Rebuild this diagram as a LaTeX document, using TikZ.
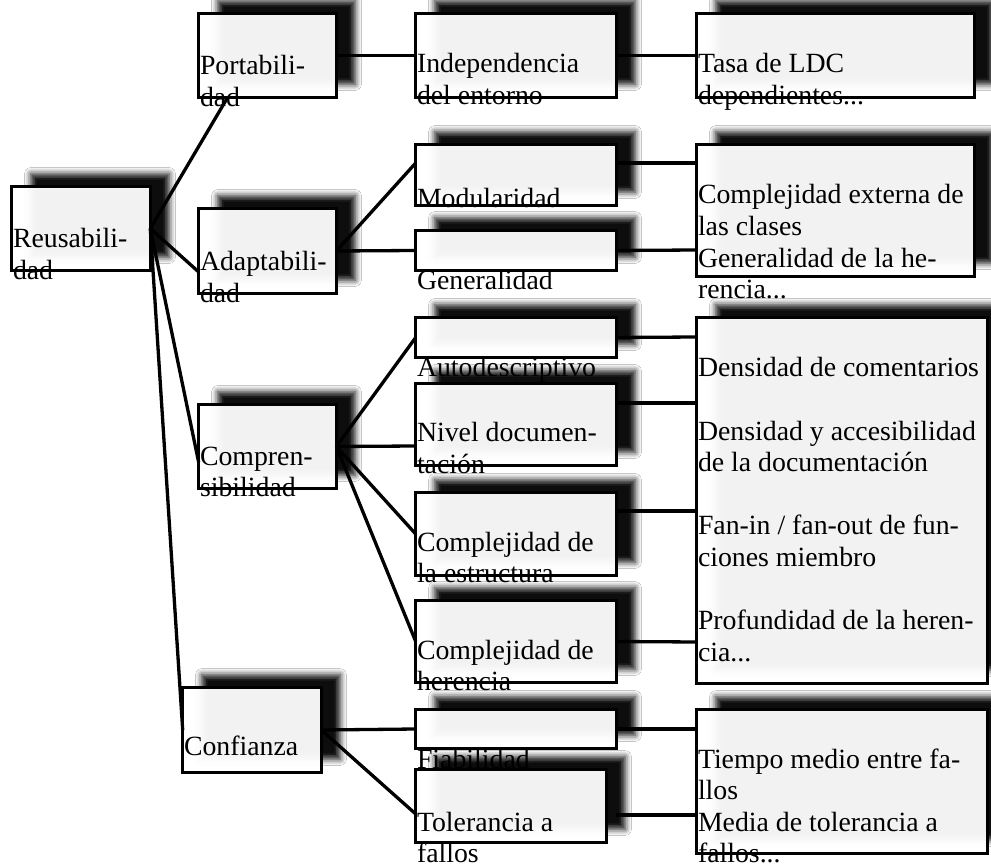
\documentclass[tikz,border=0pt]{standalone}
\usepackage{fontspec}
\setmainfont{Liberation Serif}
\usetikzlibrary{shadows.blur}
\newcommand\mybox[5]{%
  \pgfmathsetmacro\bxw{#4-#2-3.4}%
  \pgfmathsetmacro\bxh{#5-#3-3.4}%
  \node[box, minimum width=\bxw pt, minimum height=\bxh pt] (#1) at ({(#2+#4)/2},{(#3+#5)/2}) {};}
\newcommand\ml[1]{\begin{tabular}[t]{@{}l@{}}#1\end{tabular}}
\begin{document}
\begin{tikzpicture}[x=1pt,y=-1pt,
  box/.style={draw=black, line width=3.4pt, fill=white, fill opacity=0.95, draw opacity=1,
    inner sep=0pt, outer sep=0pt,
    blur shadow={shadow xshift=19pt, shadow yshift=13pt, shadow blur radius=6pt, shadow opacity=100}},
  txt/.style={anchor=base west, inner sep=0pt, outer sep=0pt,
    font=\fontsize{27.8}{31.6}\selectfont, text opacity=1, fill opacity=1},
  conn/.style={draw=black, line width=3.3pt}]
\useasboundingbox (0,0) rectangle (991,866);
\fill[white] (0,0) rectangle (991,866);
% ---- level 1
\mybox{reus}{10}{185}{152}{272}
\node[txt] (treus) at (13,248) {\ml{Reusabili-\\dad}};
\mybox{port}{197}{12}{338}{99}
\node[txt] (tport) at (200,75) {\ml{Portabili-\\dad}};
\mybox{adap}{197}{207}{338}{295}
\node[txt] (tadap) at (200,271) {\ml{Adaptabili-\\dad}};
\mybox{comp}{197}{403}{338}{490}
\node[txt] (tcomp) at (200,465) {\ml{Compren-\\sibilidad}};
\mybox{conf}{181}{686}{323}{774}
\node[txt] (tconf) at (184,755) {Confianza};
% ---- level 2
\mybox{indep}{414}{12}{618}{99}
\node[txt] (tindep) at (417,73) {\ml{Independencia\\del entorno}};
\mybox{modu}{414}{143}{618}{207}
\node[txt] (tmodu) at (417,208) {Modularidad};
\mybox{gene}{414}{229}{618}{272}
\node[txt] (tgene) at (417,290) {Generalidad};
\mybox{auto}{414}{316}{618}{359}
\node[txt] (tauto) at (417,377) {Autodescriptivo};
\mybox{nivel}{414}{382}{618}{467}
\node[txt] (tnivel) at (417,442) {\ml{Nivel documen-\\tación}};
\mybox{cest}{414}{491}{618}{577}
\node[txt] (tcest) at (417,551) {\ml{Complejidad de\\la estructura}};
\mybox{cher}{414}{599}{618}{684}
\node[txt] (tcher) at (417,659) {\ml{Complejidad de\\herencia}};
\mybox{fiab}{414}{708}{618}{750}
\node[txt] (tfiab) at (417,768) {Fiabilidad};
\mybox{tole}{414}{768}{608}{844}
\node[txt] (ttole) at (417,831) {\ml{Tolerancia a\\fallos}};
% ---- level 3
\mybox{tasa}{695}{12}{976}{99}
\node[txt] (ttasa) at (698,73) {\ml{Tasa de LDC\\dependientes...}};
\mybox{cext}{695}{143}{976}{278}
\node[txt] (tcext) at (698,204) {\ml{Complejidad externa de\\las clases\\Generalidad de la he-\\rencia...}};
\mybox{dens}{695}{316}{989}{685}
\node[txt] (tdens) at (698,377) {\ml{Densidad de comentarios\\ \\Densidad y accesibilidad\\de la documentación\\ \\Fan-in / fan-out de fun-\\ciones miembro\\ \\Profundidad de la heren-\\cia...}};
\mybox{tiem}{695}{708}{989}{855}
\node[txt] (ttiem) at (698,768) {\ml{Tiempo medio entre fa-\\llos\\Media de tolerancia a\\fallos...}};
% ---- connectors
\draw[conn] (reus.east) -- ([xshift=29pt]port.south west);
\draw[conn] (reus.east) -- ([yshift=-21pt]adap.west);
\draw[conn] (reus.east) -- ([yshift=-16pt]comp.west);
\draw[conn] (reus.east) -- (conf.west);
\draw[conn] (port.east) -- (indep.west);
\draw[conn] (indep.east) -- (tasa.west);
\draw[conn] (adap.east) -- ([yshift=12pt]modu.west);
\draw[conn] (adap.east) -- (gene.west);
\draw[conn] ([yshift=12pt]modu.east) -- ([yshift=47.5pt]cext.west);
\draw[conn] (gene.east) -- ([yshift=-39.5pt]cext.west);
\draw[conn] (comp.east) -- (auto.west);
\draw[conn] (comp.east) -- ([yshift=-21.5pt]nivel.west);
\draw[conn] (comp.east) -- (cest.west);
\draw[conn] (comp.east) -- (cher.west);
\draw[conn] (auto.east) -- ([yshift=163.5pt]dens.west);
\draw[conn] ([yshift=21.5pt]nivel.east) -- ([yshift=97.5pt]dens.west);
\draw[conn] ([yshift=23pt]cest.east) -- ([yshift=-10.5pt]dens.west);
\draw[conn] (cher.east) -- ([yshift=-141.5pt]dens.west);
\draw[conn] (conf.east) -- (fiab.west);
\draw[conn] (conf.east) -- ([yshift=-8pt]tole.west);
\draw[conn] (fiab.east) -- ([yshift=52.5pt]tiem.west);
\draw[conn] ([xshift=10pt,yshift=-9pt]tole.east) -- ([yshift=-33.5pt]tiem.west);
\end{tikzpicture}
\end{document}
